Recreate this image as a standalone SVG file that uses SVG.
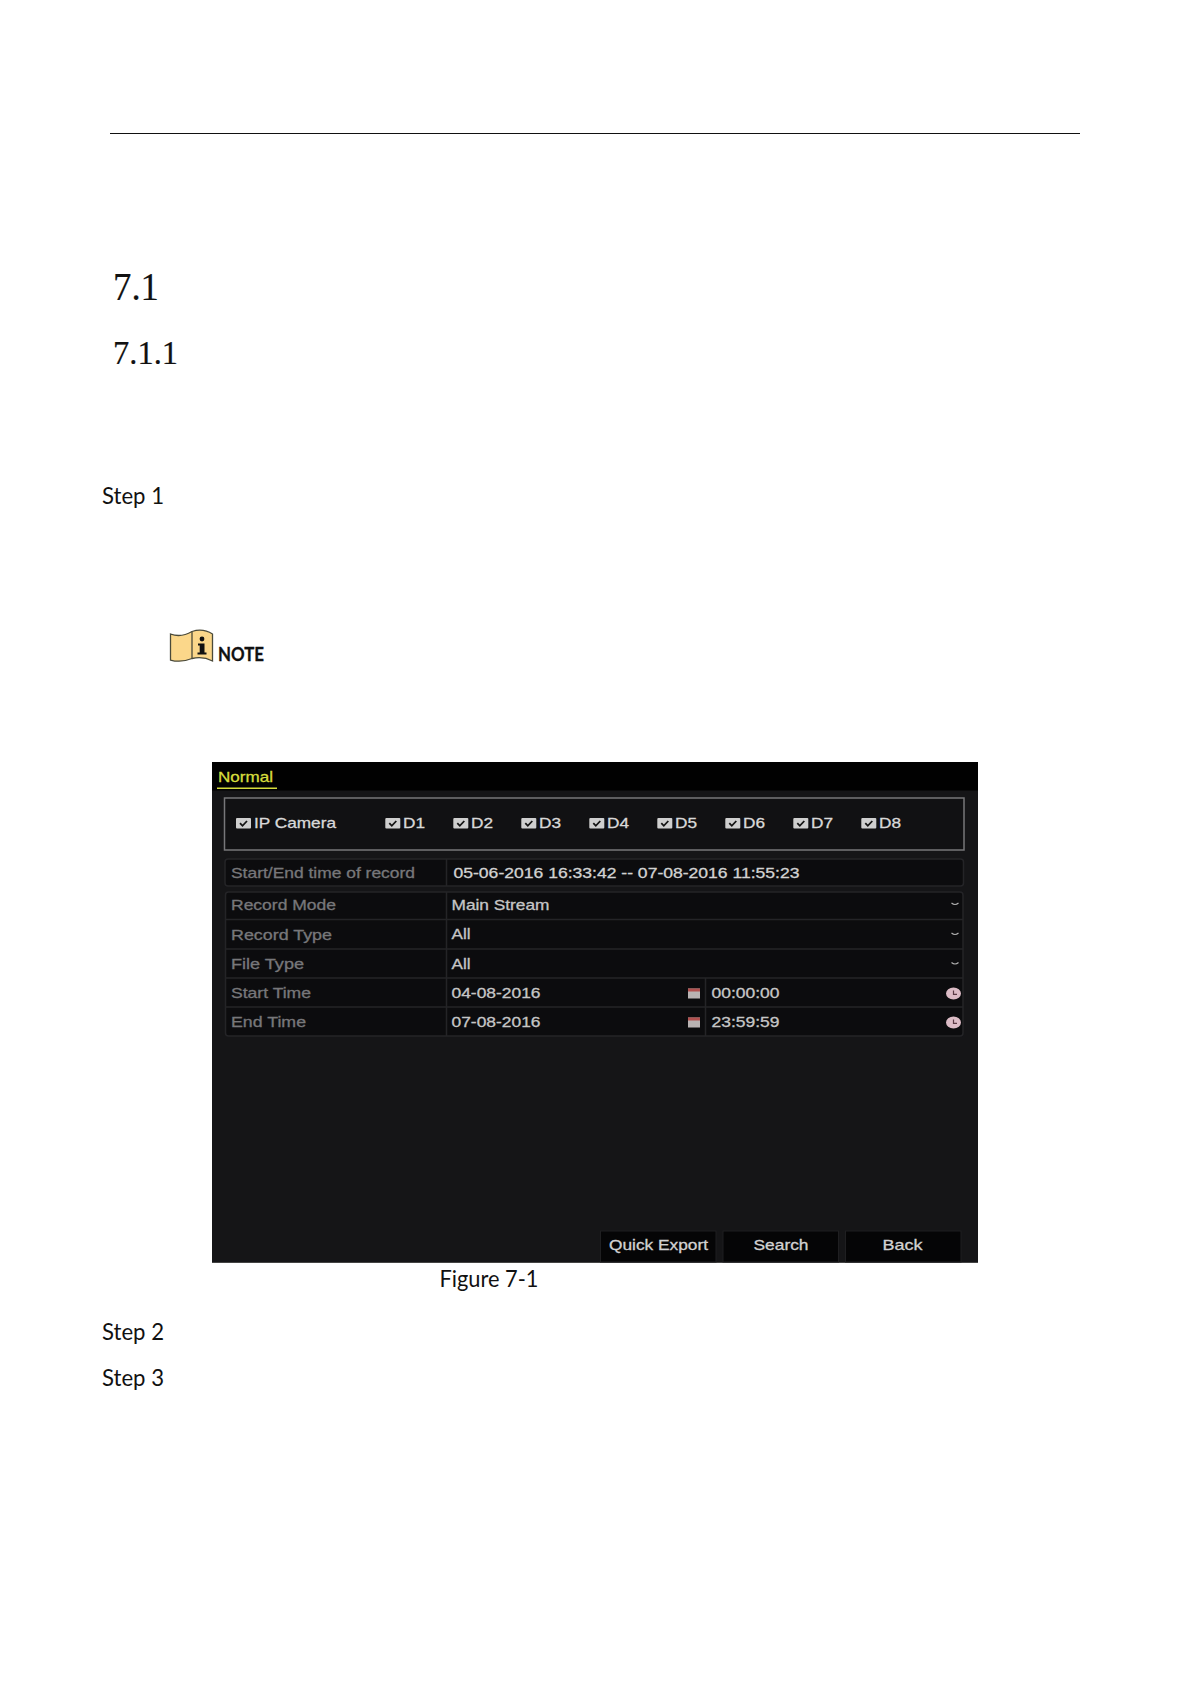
<svg xmlns="http://www.w3.org/2000/svg" width="1191" height="1684" viewBox="0 0 1191 1684">
<style>
.h{font-family:"Liberation Serif",serif;fill:#111}
.s{font-family:Lato,"Noto Sans",sans-serif;font-size:23.500px;fill:#111}
text.u{font-family:"Liberation Sans",Arial,sans-serif;font-size:14.500px;font-weight:400;stroke-width:0.3px}
.l{fill:#77777a;stroke:#77777a}
.v{fill:#c6c6c6;stroke:#c6c6c6}
.w{fill:#d2d2d2;stroke:#d2d2d2}
.b{fill:#d9d9d9;stroke:#d9d9d9}
.row{fill:none;stroke:#242427;stroke-width:1.5}
.c{fill:none;stroke:#b0b0b0;stroke-width:1.2}
.btn{fill:#050506;stroke:#1f1f21;stroke-width:1}
.cal{fill:#b9b3b3}
.calt{fill:#b2504f}
.clk{fill:#dcbcc6}
.hand{fill:none;stroke:#5a3a44;stroke-width:1.2}
</style>
<defs>
<g id="cb"><rect width="15" height="10.5" rx="1" fill="#cfcfcf"/><path d="M4 5.2L6.5 7.8L11 3" fill="none" stroke="#141414" stroke-width="1.8"/></g>
<g id="cal"><rect width="12" height="10" class="cal"/><rect width="12" height="3" class="calt"/></g>
<g id="clk"><ellipse cx="0" cy="0" rx="7.500" ry="6" class="clk"/><path d="M0 -3V0.8H3.5" class="hand"/></g>
</defs>
<rect width="1191" height="1684" fill="#fff"/>
<g id="page-header"><line x1="110" y1="133.500" x2="1080" y2="133.500" stroke="#111" stroke-width="1"/></g>
<g id="headings">
<text class="h" x="113" y="299.500" font-size="40" textLength="46" lengthAdjust="spacingAndGlyphs" stroke="#111" stroke-width="0.2">7.1</text>
<text class="h" x="113" y="364" font-size="34" textLength="65" lengthAdjust="spacingAndGlyphs" stroke="#111" stroke-width="0.2">7.1.1</text>
</g>
<g id="step-1"><text class="s" x="102" y="504" textLength="62" lengthAdjust="spacingAndGlyphs">Step 1</text></g>
<g id="note">
<path d="M170.500 634Q181 638 192 631.500Q203 628 212.500 634V661Q203 656 192 658.500Q181 663 170.500 660Z" fill="#fbd78a" stroke="#4a4a3a" stroke-width="1.3"/>
<line x1="192" y1="631.500" x2="192" y2="658.500" stroke="#4a4a3a" stroke-width="1.3"/>
<circle cx="202" cy="639" r="2.400" fill="#111"/>
<path d="M198 643.500H204.500V652.500H206.500V654.500H197.500V652.500H199.700V645.500H198Z" fill="#111"/>
<text x="218" y="660.500" font-family="Lato,'Noto Sans',sans-serif" font-weight="700" font-size="18.500" fill="#111" stroke="#111" stroke-width="0.3" textLength="46" lengthAdjust="spacingAndGlyphs">NOTE</text>
</g>
<g id="screen">
<rect x="212" y="762" width="766" height="501" fill="#151517"/>
<rect x="212" y="762" width="766" height="28.500" fill="#010101"/>
<rect x="212" y="1262" width="766" height="1" fill="#444"/>
<g id="tab-normal">
<text class="u" x="218" y="781.500" fill="#d5dc3c" stroke="#d5dc3c" textLength="55" lengthAdjust="spacingAndGlyphs">Normal</text>
<rect x="217" y="787.500" width="60" height="1.500" fill="#d5dc3c"/>
</g>
<g id="camera-box">
<rect x="224.500" y="798" width="739.500" height="52" fill="#111113" stroke="#77777a" stroke-width="1.500"/>
<use href="#cb" x="236" y="818"/>
<text class="u b" x="254" y="828" textLength="82" lengthAdjust="spacingAndGlyphs">IP Camera</text>
<use href="#cb" x="385.300" y="818"/><text class="u b" x="403" y="828" textLength="22" lengthAdjust="spacingAndGlyphs">D1</text>
<use href="#cb" x="453.300" y="818"/><text class="u b" x="471" y="828" textLength="22" lengthAdjust="spacingAndGlyphs">D2</text>
<use href="#cb" x="521.300" y="818"/><text class="u b" x="539" y="828" textLength="22" lengthAdjust="spacingAndGlyphs">D3</text>
<use href="#cb" x="589.300" y="818"/><text class="u b" x="607" y="828" textLength="22" lengthAdjust="spacingAndGlyphs">D4</text>
<use href="#cb" x="657.300" y="818"/><text class="u b" x="675" y="828" textLength="22" lengthAdjust="spacingAndGlyphs">D5</text>
<use href="#cb" x="725.300" y="818"/><text class="u b" x="743" y="828" textLength="22" lengthAdjust="spacingAndGlyphs">D6</text>
<use href="#cb" x="793.300" y="818"/><text class="u b" x="811" y="828" textLength="22" lengthAdjust="spacingAndGlyphs">D7</text>
<use href="#cb" x="861.300" y="818"/><text class="u b" x="879" y="828" textLength="22" lengthAdjust="spacingAndGlyphs">D8</text>
</g>
<g id="record-range">
<rect x="225" y="859" width="738.500" height="27" rx="3" fill="#0c0c0e" stroke="#242427" stroke-width="1.500"/>
<line x1="446.500" y1="859" x2="446.500" y2="886" stroke="#242427" stroke-width="1.500"/>
<text class="u l" x="231" y="878" textLength="184" lengthAdjust="spacingAndGlyphs">Start/End time of record</text>
<text class="u w" x="453.500" y="878" textLength="346" lengthAdjust="spacingAndGlyphs">05-06-2016 16:33:42 -- 07-08-2016 11:55:23</text>
</g>
<g id="form-rows">
<rect x="225.500" y="892" width="737.500" height="144" rx="3" fill="#0c0c0e" stroke="#242427" stroke-width="1.500"/>
<line class="row" x1="225.500" y1="919.500" x2="963" y2="919.500"/>
<line class="row" x1="225.500" y1="949" x2="963" y2="949"/>
<line class="row" x1="225.500" y1="978" x2="963" y2="978"/>
<line class="row" x1="225.500" y1="1007" x2="963" y2="1007"/>
<line class="row" x1="446.500" y1="892" x2="446.500" y2="1036"/>
<line class="row" x1="705.500" y1="978" x2="705.500" y2="1036"/>
<text class="u l" x="231" y="910" textLength="105" lengthAdjust="spacingAndGlyphs">Record Mode</text>
<text class="u l" x="231" y="939.500" textLength="101" lengthAdjust="spacingAndGlyphs">Record Type</text>
<text class="u l" x="231" y="969" textLength="73" lengthAdjust="spacingAndGlyphs">File Type</text>
<text class="u l" x="231" y="998" textLength="80" lengthAdjust="spacingAndGlyphs">Start Time</text>
<text class="u l" x="231" y="1027" textLength="75" lengthAdjust="spacingAndGlyphs">End Time</text>
<text class="u v" x="451.500" y="909.500" textLength="98" lengthAdjust="spacingAndGlyphs">Main Stream</text>
<text class="u v" x="451.500" y="939" textLength="19" lengthAdjust="spacingAndGlyphs">All</text>
<text class="u v" x="451.500" y="968.500" textLength="19" lengthAdjust="spacingAndGlyphs">All</text>
<text class="u v" x="451.500" y="998" textLength="89" lengthAdjust="spacingAndGlyphs">04-08-2016</text>
<text class="u v" x="451.500" y="1027" textLength="89" lengthAdjust="spacingAndGlyphs">07-08-2016</text>
<text class="u v" x="711.500" y="998" textLength="68" lengthAdjust="spacingAndGlyphs">00:00:00</text>
<text class="u v" x="711.500" y="1027" textLength="68" lengthAdjust="spacingAndGlyphs">23:59:59</text>
<path class="c" d="M951.500 903Q955 906 958.500 903"/>
<path class="c" d="M951.500 933Q955 936 958.500 933"/>
<path class="c" d="M951.500 962.500Q955 965.500 958.500 962.500"/>
<use href="#cal" x="688" y="988.500"/>
<use href="#cal" x="688" y="1017.500"/>
<use href="#clk" x="953.500" y="993.500"/>
<use href="#clk" x="953.500" y="1022.500"/>
</g>
<g id="btn-quick-export"><rect class="btn" x="600.500" y="1231" width="115.500" height="31"/><text class="u w" x="609" y="1250" textLength="99" lengthAdjust="spacingAndGlyphs">Quick Export</text></g>
<g id="btn-search"><rect class="btn" x="723" y="1231" width="115.500" height="31"/><text class="u w" x="753.500" y="1250" textLength="55" lengthAdjust="spacingAndGlyphs">Search</text></g>
<g id="btn-back"><rect class="btn" x="845.500" y="1231" width="115.500" height="31"/><text class="u w" x="882.500" y="1250" textLength="40" lengthAdjust="spacingAndGlyphs">Back</text></g>
</g>
<g id="caption"><text class="s" x="439.500" y="1286.500" textLength="99" lengthAdjust="spacingAndGlyphs">Figure 7-1</text></g>
<g id="step-2"><text class="s" x="102" y="1339.500" textLength="62" lengthAdjust="spacingAndGlyphs">Step 2</text></g>
<g id="step-3"><text class="s" x="102" y="1385.500" textLength="62" lengthAdjust="spacingAndGlyphs">Step 3</text></g>
</svg>
